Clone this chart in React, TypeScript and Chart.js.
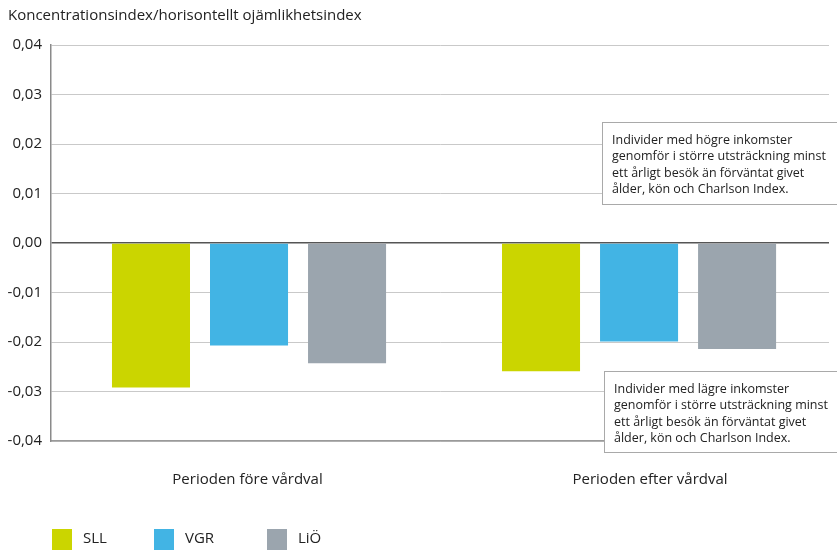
import React, { useEffect, useRef } from "react";
import { Chart, registerables } from "chart.js";

Chart.register(...registerables);

// Category and series data
const categories = ["Perioden före vårdval", "Perioden efter vårdval"];
const seriesNames = ["SLL", "VGR", "LiÖ"];
const sllValues = [-0.0292, -0.0259];
const vgrValues = [-0.0207, -0.0199];
const lioValues = [-0.0243, -0.0214];
const yTickValues = [-0.04, -0.03, -0.02, -0.01, 0, 0.01, 0.02, 0.03, 0.04];

const axisTitle = "Koncentrationsindex/horisontellt ojämlikhetsindex";
const noteHigher = [
  "Individer med högre inkomster",
  "genomför i större utsträckning minst",
  "ett årligt besök än förväntat givet",
  "ålder, kön och Charlson Index.",
];
const noteLower = [
  "Individer med lägre inkomster",
  "genomför i större utsträckning minst",
  "ett årligt besök än förväntat givet",
  "ålder, kön och Charlson Index.",
];

const seriesColors = ["#cbd500", "#42b4e4", "#9ba5ae"];
const FONT = "'Open Sans', sans-serif";
const TEXT = "#222222";

const seriesValues = [sllValues, vgrValues, lioValues];

// Title, category labels, note boxes and legend drawn on the chart canvas
const decorations = {
  id: "decorations",
  afterDraw(chart: any) {
    const ctx = chart.ctx as CanvasRenderingContext2D;
    const x = chart.scales.x;
    ctx.save();
    ctx.fillStyle = TEXT;
    ctx.textBaseline = "alphabetic";

    // axis title
    ctx.font = `15px ${FONT}`;
    ctx.textAlign = "left";
    ctx.fillText(axisTitle, 8, 20);

    // category labels under the plot
    ctx.textAlign = "center";
    const labelNudge = [-1.5, 11];
    categories.forEach((c, i) => {
      ctx.fillText(c, x.getPixelForValue(i) + labelNudge[i], 484);
    });

    // note boxes (they run off the right edge of the canvas)
    const drawNote = (lines: string[], left: number, top: number, bottom: number, firstLine: number) => {
      const right = chart.width + 4;
      ctx.fillStyle = "#ffffff";
      ctx.fillRect(left, top, right - left, bottom - top);
      ctx.strokeStyle = "#a9a9a9";
      ctx.lineWidth = 1;
      ctx.strokeRect(left + 0.5, top + 0.5, right - left, bottom - top);
      ctx.fillStyle = TEXT;
      ctx.font = `12.5px ${FONT}`;
      ctx.textAlign = "left";
      ctx.textBaseline = "middle";
      lines.forEach((l, i) => ctx.fillText(l, left + 10, firstLine + i * 16.5));
    };
    drawNote(noteHigher, 602, 122, 204, 140);
    drawNote(noteLower, 604, 371, 452, 389);

    // legend
    ctx.textBaseline = "middle";
    ctx.textAlign = "left";
    ctx.font = `15px ${FONT}`;
    const legendX = [52, 154, 267];
    chart.data.datasets.forEach((ds: any, i: number) => {
      ctx.fillStyle = ds.backgroundColor;
      ctx.fillRect(legendX[i], 529, 20, 21);
      ctx.fillStyle = TEXT;
      ctx.fillText(ds.label, legendX[i] + 31, 539);
    });
    ctx.restore();
  },
};

export default function App() {
  const canvasRef = useRef<HTMLCanvasElement | null>(null);

  useEffect(() => {
    if (!canvasRef.current) return;
    const chart = new Chart(canvasRef.current, {
      type: "bar",
      data: {
        datasets: seriesNames.map((name, i) => ({
          label: name,
          data: seriesValues[i].map((v, j) => ({ x: j, y: v })),
          backgroundColor: seriesColors[i],
          borderWidth: 0,
          categoryPercentage: 0.754,
          barPercentage: 0.796,
        })),
      },
      options: {
        animation: false,
        responsive: false,
        layout: { padding: { top: 45, right: 8, bottom: 0, left: 0 } },
        plugins: { legend: { display: false }, tooltip: { enabled: false } },
        scales: {
          x: {
            type: "linear",
            offset: false,
            min: -0.5077,
            max: 1.487,
            afterBuildTicks(s: any) {
              s.ticks = categories.map((_, i) => ({ value: i }));
            },
            grid: { display: false },
            border: { display: true, color: "#9a9a9a", width: 1.5 },
            ticks: { display: false },
            afterFit(s: any) {
              s.height = 109;
            },
          },
          y: {
            min: -0.04,
            max: 0.04,
            afterBuildTicks(s: any) {
              s.ticks = yTickValues.map((v) => ({ value: v }));
            },
            ticks: {
              padding: 9,
              color: TEXT,
              font: { family: FONT, size: 15 },
              callback: (v: any) => Number(v).toFixed(2).replace(".", ","),
            },
            grid: {
              drawTicks: false,
              color: (c: any) => (c.tick && Math.abs(c.tick.value) < 1e-9 ? "#555555" : "#c9c9c9"),
              lineWidth: (c: any) => (c.tick && Math.abs(c.tick.value) < 1e-9 ? 1.5 : 1),
            },
            border: { display: true, color: "#8a8a8a", width: 1.5 },
            afterFit(s: any) {
              s.width = 51;
            },
          },
        },
      },
      plugins: [decorations],
    });
    return () => chart.destroy();
  }, []);

  return (
    <div style={{ position: "absolute", left: 0, top: 0, width: 837, height: 550, background: "#fff" }}>
      <canvas ref={canvasRef} width={837} height={550} />
    </div>
  );
}
